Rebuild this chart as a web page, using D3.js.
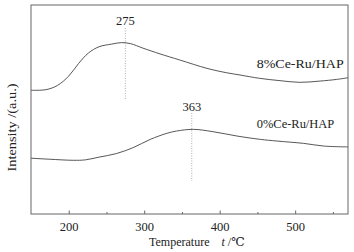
<!DOCTYPE html>
<html>
<head>
<meta charset="utf-8">
<script src="https://cdn.jsdelivr.net/npm/d3@7"></script>
<style>
  html, body { margin: 0; padding: 0; background: #fff; }
  text { font-family: "Liberation Serif", "DejaVu Serif", serif; fill: #222; }
</style>
</head>
<body>
<svg id="chart" width="354" height="252"></svg>
<script>
// temperature (°C) and intensity (a.u.)
let temp8 = [150, 170, 185, 200, 213, 226, 240, 257, 270, 282, 298, 321, 347, 383, 409, 427, 453, 480, 506, 533, 555, 570];
let int8  = [59.2, 59.5, 61.5, 66, 72, 77, 80, 81.3, 82, 81.5, 79.4, 76.6, 73.7, 69.7, 67.6, 66.5, 64.9, 63.8, 63.0, 63.6, 64.4, 65.2];

let temp0 = [150, 175, 206, 222, 240, 263, 285, 308, 330, 343, 365, 391, 423, 454, 476, 511, 538, 570];
let int0  = [26.7, 26.2, 25.7, 25.9, 27.2, 28.9, 31.7, 35.7, 38.6, 39.7, 40.5, 39.4, 37.3, 35.7, 34.9, 33.8, 32.5, 32.1];

let peaks = [275, 363];
let seriesNames = ["8%Ce-Ru/HAP", "0%Ce-Ru/HAP"];
let xTicks = [200, 300, 400, 500];

let svg = d3.select('#chart');
let margin = {left: 31, top: 5, right: 6, bottom: 38};
let w = 354 - margin.left - margin.right;
let h = 252 - margin.top - margin.bottom;

let x = d3.scaleLinear().domain([150, 570]).range([margin.left, margin.left + w]);
let y = d3.scaleLinear().domain([0, 100]).range([margin.top + h, margin.top]);

// frame
svg.append('rect')
  .attr('x', margin.left).attr('y', margin.top)
  .attr('width', w).attr('height', h)
  .attr('fill', 'none').attr('stroke', '#666').attr('stroke-width', 1);

// minor ticks
let minor = d3.axisBottom(x).tickValues([250, 350, 450, 550]).tickSize(-2).tickFormat('');
svg.append('g').attr('transform', `translate(0,${margin.top + h})`).call(minor)
  .call(g => g.select('.domain').remove())
  .call(g => g.selectAll('line').attr('stroke', '#666'));

// major ticks
let axis = d3.axisBottom(x).tickValues(xTicks).tickSize(-3.5).tickPadding(8);
svg.append('g').attr('transform', `translate(0,${margin.top + h})`).call(axis)
  .call(g => g.select('.domain').remove())
  .call(g => g.selectAll('line').attr('stroke', '#666'))
  .call(g => g.selectAll('text')
    .attr('font-family', '"Liberation Serif", serif')
    .attr('font-size', 12.5).attr('fill', '#222'));

// axis titles
let xt = svg.append('text').attr('x', 149).attr('y', 246).attr('font-size', 12);
xt.append('tspan').text('Temperature');
xt.append('tspan').attr('dx', 12).attr('font-style', 'italic').text('t');
xt.append('tspan').text(' /℃');

svg.append('text')
  .attr('transform', 'translate(16,127.5) rotate(-90)')
  .attr('text-anchor', 'middle')
  .attr('font-size', 12)
  .attr('textLength', 88).attr('lengthAdjust', 'spacingAndGlyphs')
  .text('Intensity /(a.u.)');

// curves
let line = d3.line()
  .x(d => x(d[0]))
  .y(d => y(d[1]))
  .curve(d3.curveCatmullRom.alpha(0.5));

[[temp8, int8], [temp0, int0]].forEach(function(s) {
  svg.append('path')
    .datum(d3.zip(s[0], s[1]))
    .attr('d', line)
    .attr('fill', 'none')
    .attr('stroke', '#444')
    .attr('stroke-width', 0.9);
});

// peak markers
let peakTop = [[25, 28, 99], [111, 113, 181]];
peaks.forEach(function(p, i) {
  svg.append('line')
    .attr('x1', x(p)).attr('x2', x(p))
    .attr('y1', peakTop[i][1]).attr('y2', peakTop[i][2])
    .attr('stroke', '#999').attr('stroke-width', 0.8)
    .attr('stroke-dasharray', '1,1.5');
  svg.append('text')
    .attr('x', x(p)).attr('y', peakTop[i][0])
    .attr('text-anchor', 'middle')
    .attr('font-size', 12.5)
    .text(p);
});

// series labels
let labelPos = [[256.7, 68.3, 87], [256.7, 128.3, 77.6]];
seriesNames.forEach(function(n, i) {
  svg.append('text')
    .attr('x', labelPos[i][0]).attr('y', labelPos[i][1])
    .attr('font-size', 12.5)
    .attr('textLength', labelPos[i][2]).attr('lengthAdjust', 'spacingAndGlyphs')
    .text(n);
});
</script>
</body>
</html>
